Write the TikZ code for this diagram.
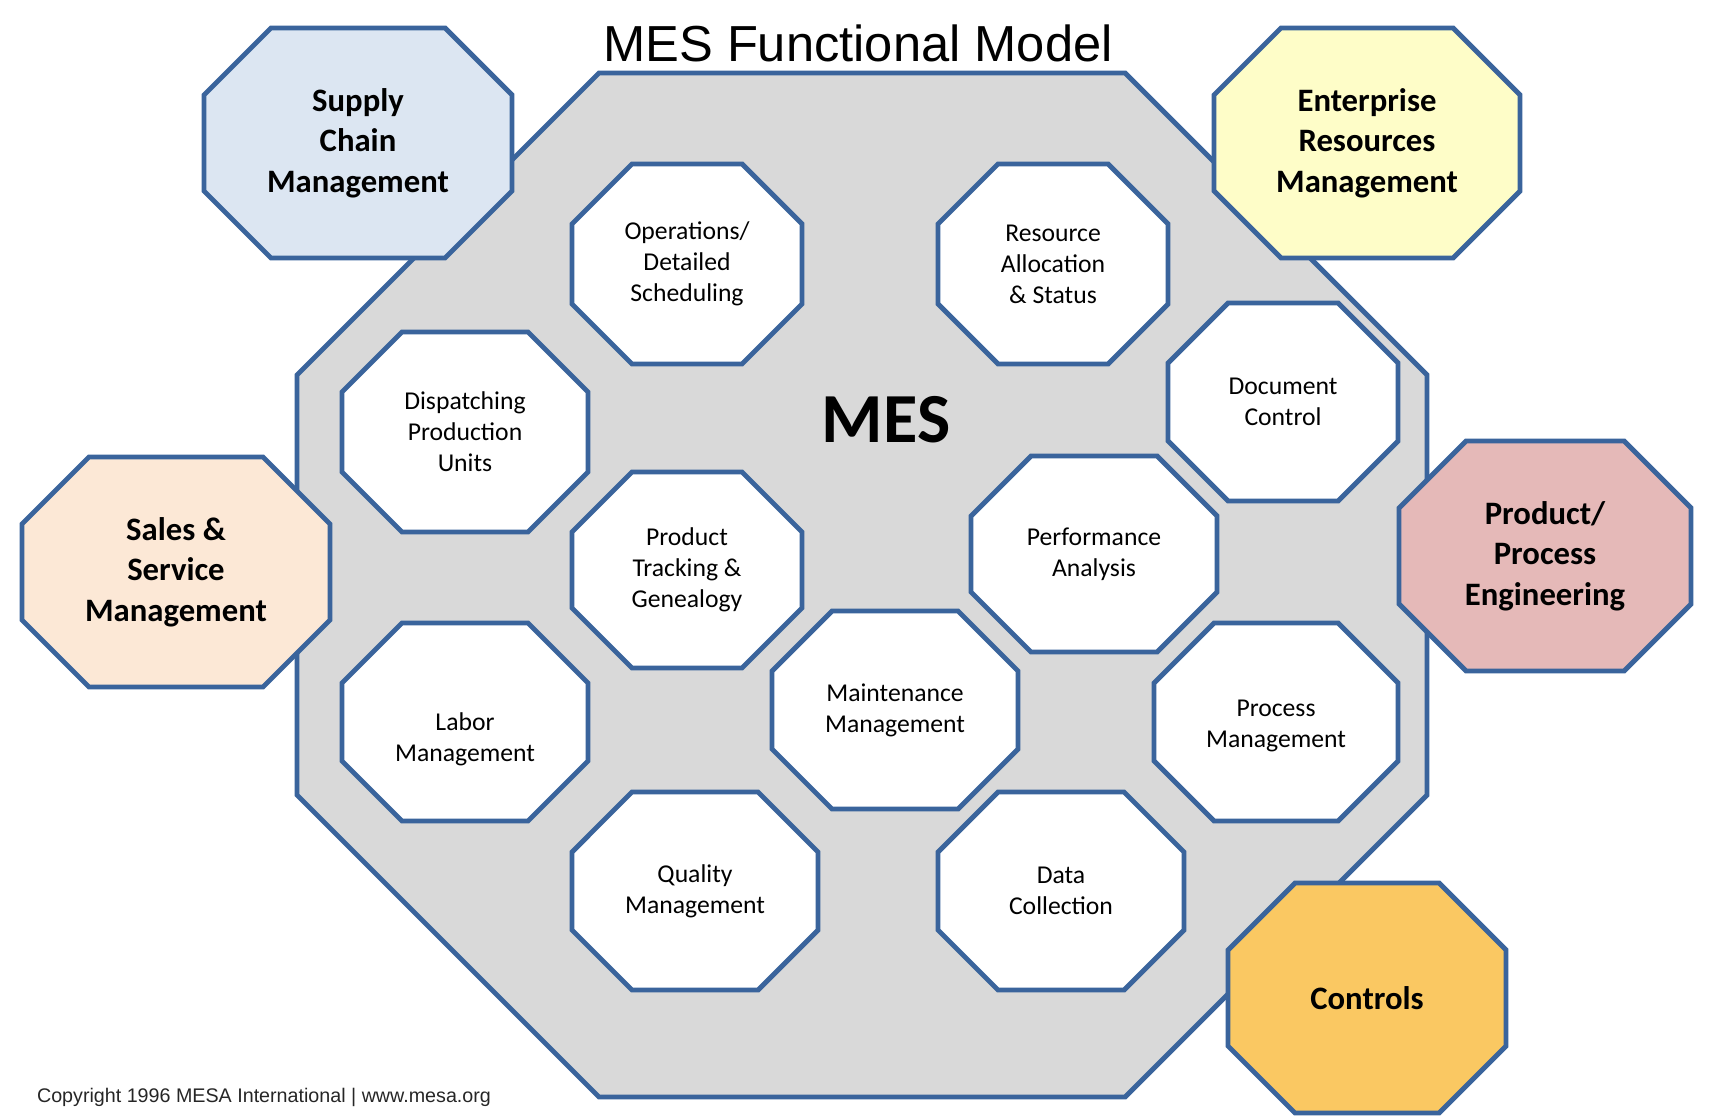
\documentclass[tikz,border=0pt]{standalone}
\usepackage{fontspec}
\setmainfont{Carlito}
\newfontfamily\arialfont{Liberation Sans}

\definecolor{mesblue}{RGB}{58,100,156}
\definecolor{mesgray}{RGB}{217,217,217}
\definecolor{supplyblue}{RGB}{220,230,242}
\definecolor{erpyellow}{RGB}{254,253,200}
\definecolor{salespeach}{RGB}{252,232,214}
\definecolor{engrose}{RGB}{229,185,184}
\definecolor{ctrlorange}{RGB}{250,200,98}

\tikzset{
  octline/.style={draw=mesblue, line width=1.4pt, line join=miter},
  innerfunc/.style={align=center, font=\fontsize{7.3}{8.8}\selectfont},
  outerfunc/.style={align=center, font=\bfseries\fontsize{9.3}{11.5}\selectfont}
}

% name, cx, cy, half width, half height, corner cut, path style, node style, text
\newcommand{\octbox}[9]{%
  \draw[octline,#7] (#2-#4+#6,#3-#5) -- (#2+#4-#6,#3-#5) -- (#2+#4,#3-#5+#6)
    -- (#2+#4,#3+#5-#6) -- (#2+#4-#6,#3+#5) -- (#2-#4+#6,#3+#5)
    -- (#2-#4,#3+#5-#6) -- (#2-#4,#3-#5+#6) -- cycle;
  \node[#8] (#1) at (#2,#3) {#9};}

\begin{document}
\begin{tikzpicture}[x=0.01cm, y=-0.01cm]
  \useasboundingbox (0,0) rectangle (1710,1116);

  % MES body
  \octbox{mes}{862}{585}{565}{512}{302}{fill=mesgray}{}{}
  \node[font=\bfseries\fontsize{20}{24}\selectfont] (meslabel) at (886,420) {MES};

  % MES functions
  \octbox{ops}{687}{264}{115}{100}{60}{fill=white}{innerfunc}{Operations/\\Detailed\\Scheduling}
  \octbox{res}{1053}{264}{115}{100}{60}{fill=white}{innerfunc}{Resource\\Allocation\\\& Status}
  \octbox{doc}{1283}{402}{115}{99}{60}{fill=white}{innerfunc}{Document\\Control}
  \octbox{disp}{465}{432}{123}{100}{60}{fill=white}{innerfunc}{Dispatching\\Production\\Units}
  \octbox{track}{687}{570}{115}{98}{60}{fill=white}{innerfunc}{Product\\Tracking \&\\Genealogy}
  \octbox{perf}{1094}{554}{123}{98}{60}{fill=white}{innerfunc}{Performance\\Analysis}
  \octbox{maint}{895}{710}{123}{99}{60}{fill=white}{innerfunc}{Maintenance\\Management}
  \octbox{labor}{465}{722}{123}{99}{60}{fill=white}{innerfunc, yshift=-0.17cm}{Labor\\Management}
  \octbox{proc}{1276}{722}{122}{99}{60}{fill=white}{innerfunc, yshift=-0.04cm}{Process\\Management}
  \octbox{qual}{695}{891}{123}{99}{60}{fill=white}{innerfunc}{Quality\\Management}
  \octbox{data}{1061}{891}{123}{99}{60}{fill=white}{innerfunc}{Data\\Collection}

  % enterprise functions
  \octbox{supply}{358}{143}{154}{115}{67}{fill=supplyblue}{outerfunc}{Supply\\Chain\\Management}
  \octbox{erp}{1367}{143}{153}{115}{67}{fill=erpyellow}{outerfunc}{Enterprise\\Resources\\Management}
  \octbox{sales}{176}{572}{154}{115}{67}{fill=salespeach}{outerfunc}{Sales \&\\Service\\Management}
  \octbox{eng}{1545}{556}{146}{115}{67}{fill=engrose}{outerfunc}{Product/\\Process\\Engineering}
  \octbox{ctrl}{1367}{998}{139}{115}{67}{fill=ctrlorange}{outerfunc}{Controls}

  \node[font=\arialfont\fontsize{14.4}{17}\selectfont] (title) at (858,43) {MES Functional Model};
  \node[font=\arialfont\fontsize{5.6}{7}\selectfont, text=black!85] (copy) at (264,1097) {Copyright 1996 MESA International | www.mesa.org};
\end{tikzpicture}
\end{document}
